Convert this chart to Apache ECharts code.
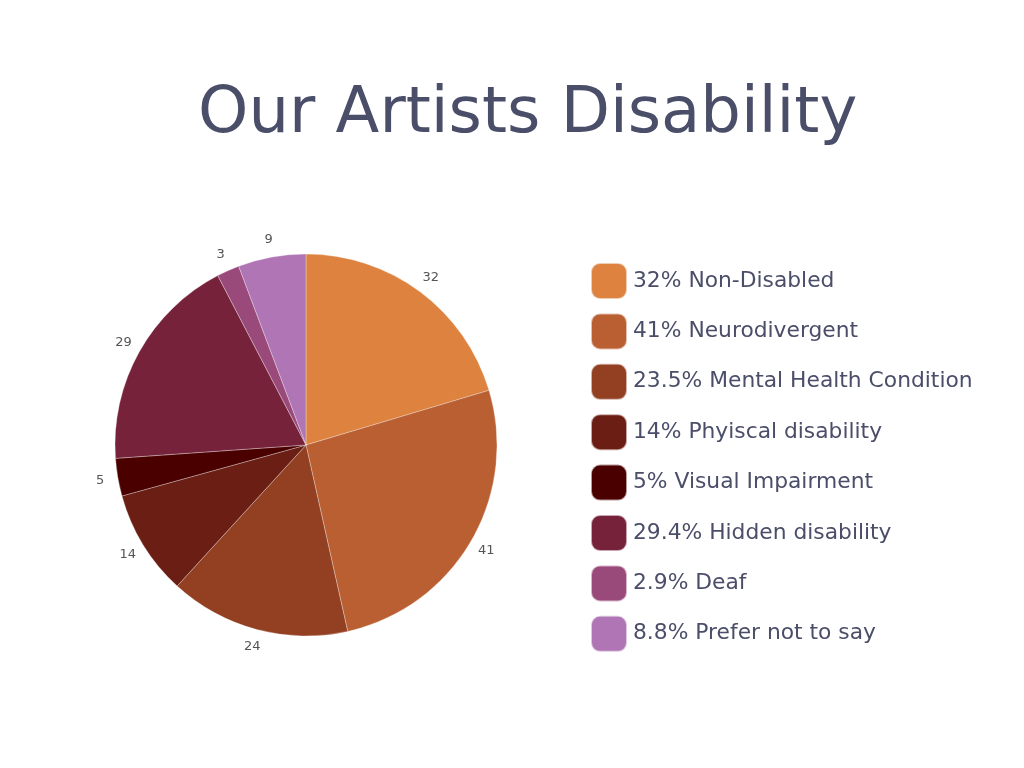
<!DOCTYPE html>
<html>
<head>
<meta charset="utf-8">
<script src="https://cdn.jsdelivr.net/npm/echarts@6/dist/echarts.min.js"></script>
<style>
  html, body { margin: 0; padding: 0; background: #fff; }
  #chart { width: 1024px; height: 768px; }
</style>
</head>
<body>
<div id="chart"></div>
<script>
// values
var categories = ['Non-Disabled', 'Neurodivergent', 'Mental Health Condition', 'Phyiscal disability',
                  'Visual Impairment', 'Hidden disability', 'Deaf', 'Prefer not to say'];
var counts = [32, 41, 24, 14, 5, 29, 3, 9];
var percentLabels = ['32%', '41%', '23.5%', '14%', '5%', '29.4%', '2.9%', '8.8%'];
var colors = ['#dd833f', '#b95f32', '#923f22', '#6b1f14', '#4b0000', '#76223a', '#9a4a7a', '#b075b5'];

var myChart = echarts.init(document.getElementById('chart'));
var font = 'DejaVu Sans';

var data = categories.map(function (name, i) {
    return { name: name, value: counts[i], itemStyle: { color: colors[i] } };
});
// same slices again, invisible, only to carry the number labels just outside the pie
var labelData = categories.map(function (name, i) {
    return { name: name, value: counts[i] };
});

var option = {
    backgroundColor: '#fff',
    title: {
        text: 'Our Artists Disability',
        left: 193,
        top: 78,
        textStyle: { fontFamily: font, fontSize: 64, fontWeight: 'normal', color: '#4a4e69' }
    },
    legend: {
        orient: 'vertical',
        left: 590,
        top: 262,
        padding: 0,
        itemWidth: 36,
        itemHeight: 36,
        itemGap: 12.4,
        icon: 'roundRect',
        selectedMode: false,
        data: categories,
        formatter: function (name) {
            return percentLabels[categories.indexOf(name)] + ' ' + name;
        },
        textStyle: { fontFamily: font, fontSize: 21.8, color: '#4a4e69', padding: [0, 0, 0, 1] }
    },
    series: [{
        type: 'pie',
        center: [306, 445],
        radius: 191,
        startAngle: 90,
        clockwise: true,
        silent: true,
        data: data,
        itemStyle: { borderColor: 'rgba(255,255,255,0.6)', borderWidth: 0.5 },
        label: { show: false },
        labelLine: { show: false }
    }, {
        type: 'pie',
        center: [306, 445],
        radius: [192, 220],
        startAngle: 90,
        clockwise: true,
        silent: true,
        data: labelData,
        itemStyle: { color: 'rgba(0,0,0,0)' },
        label: {
            show: true,
            position: 'inside',
            formatter: '{c}',
            fontFamily: font,
            fontSize: 13,
            color: '#555'
        },
        labelLine: { show: false }
    }]
};

myChart.setOption(option);
</script>
</body>
</html>
